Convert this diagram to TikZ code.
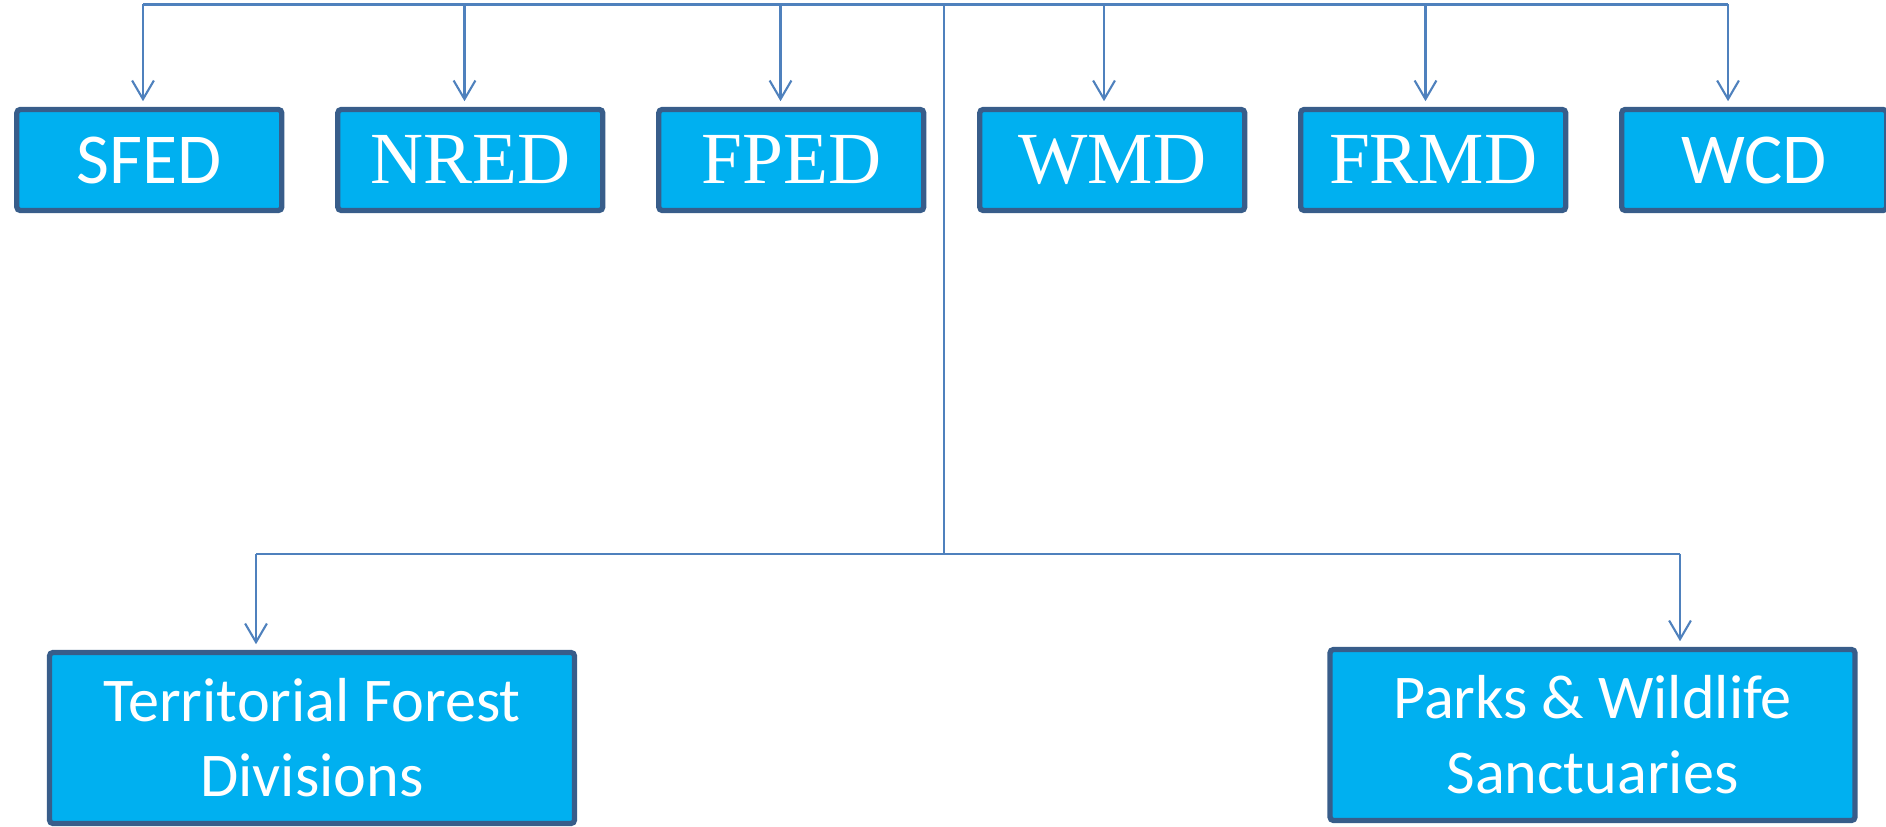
\documentclass[tikz,border=0pt]{standalone}
\usepackage{fontspec}
\newfontfamily\calib{Carlito}
\newfontfamily\timesfont{Liberation Serif}
\usepackage{tikz}
\usetikzlibrary{positioning, arrows.meta}

\definecolor{boxfill}{HTML}{00B0F0}
\definecolor{boxline}{HTML}{385D8A}
\definecolor{linkcol}{HTML}{4F81BD}

\begin{document}
\begin{tikzpicture}[
        node distance=0.507cm,
        office/.style={rectangle, draw=boxline, line width=1.5pt, fill=boxfill, rounded corners=1pt, text=white, minimum width=2.65cm, minimum height=1.01cm, align=center},
        unit/.style={office, minimum width=5.25cm, minimum height=1.71cm, font=\calib\fontsize{17.7}{21.3}\selectfont},
        sans/.style={font=\calib\fontsize{20.4}{24}\selectfont},
        serif/.style={font=\timesfont\fontsize{20.9}{24}\selectfont},
        line/.style={draw=linkcol, line width=0.6pt},
        arrow/.style={line, shorten >=1.6pt, -{Straight Barb[length=5.3pt, width=6.2pt, line width=0.6pt]}}
        ]
        \useasboundingbox (0,0) rectangle (18.86,8.26);

        \node[office, sans] (sfed) at (1.493,6.66) {SFED};
        \node[office, serif, right=of sfed] (nred) {NRED};
        \node[office, serif, right=of nred] (fped) {FPED};
        \node[office, serif, right=of fped] (wmd) {WMD};
        \node[office, serif, right=of wmd] (frmd) {FRMD};
        \node[office, sans, right=of frmd] (wcd) {WCD};

        \node[unit] (tfd) at (3.12,0.88) {Territorial Forest\\Divisions};
        \node[unit] (pws) at (15.925,0.91) {Parks \& Wildlife\\Sanctuaries};

        % top bus
        \coordinate (t1) at (1.43,8.215);
        \coordinate (t2) at (4.645,8.215);
        \coordinate (t3) at (7.805,8.215);
        \coordinate (t4) at (11.04,8.215);
        \coordinate (t5) at (14.255,8.215);
        \coordinate (t6) at (17.28,8.215);
        \coordinate (hub) at (9.437,8.2);
        \coordinate (fork) at (9.437,2.723);
        % lower bus
        \coordinate (b1) at (2.56,2.723);
        \coordinate (b2) at (16.8,2.723);

        \draw[line] (t1) -- (t6);
        \draw[line] (hub) -- (fork);
        \draw[line] (b1) -- (b2);

        \draw[arrow] (t1) -- (t1 |- sfed.north);
        \draw[arrow] (t2) -- (t2 |- nred.north);
        \draw[arrow] (t3) -- (t3 |- fped.north);
        \draw[arrow] (t4) -- (t4 |- wmd.north);
        \draw[arrow] (t5) -- (t5 |- frmd.north);
        \draw[arrow] (t6) -- (t6 |- wcd.north);
        \draw[arrow] (b1) -- (b1 |- tfd.north);
        \draw[arrow] (b2) -- (b2 |- pws.north);
    \end{tikzpicture}
\end{document}
